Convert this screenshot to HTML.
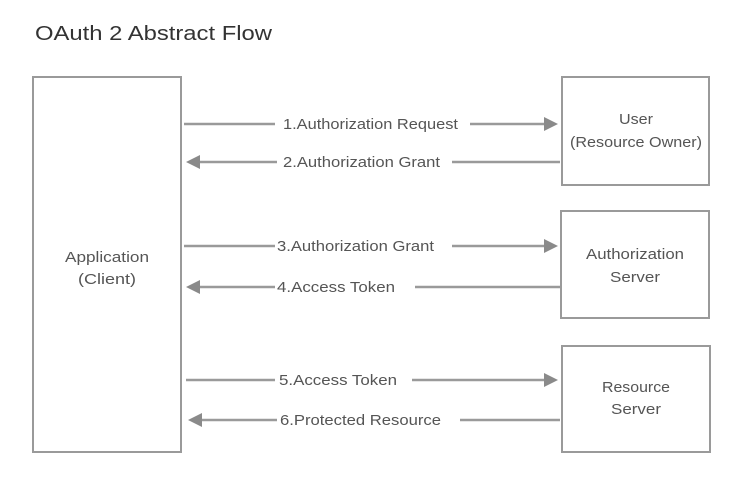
<!DOCTYPE html>
<html><head><meta charset="utf-8"><style>
html,body{margin:0;padding:0;background:#fff;}
svg{display:block;}
text{font-family:"Liberation Sans",sans-serif;fill:#555;}
</style></head><body>
<svg width="734" height="495" viewBox="0 0 734 495">
<text x="35" y="40" font-size="20" style="fill:#333" textLength="237" lengthAdjust="spacingAndGlyphs">OAuth 2 Abstract Flow</text>
<g fill="none" stroke="#9a9a9a" stroke-width="2">
<rect x="33" y="77" width="148" height="375"/>
<rect x="562" y="77" width="147" height="108"/>
<rect x="561" y="211" width="148" height="107"/>
<rect x="562" y="346" width="148" height="106"/>
</g>
<g stroke="#9a9a9a" stroke-width="2.5">
<line x1="184" y1="124" x2="275" y2="124"/><line x1="470" y1="124" x2="546" y2="124"/>
<line x1="196" y1="162" x2="277" y2="162"/><line x1="452" y1="162" x2="560" y2="162"/>
<line x1="184" y1="246" x2="275" y2="246"/><line x1="452" y1="246" x2="546" y2="246"/>
<line x1="196" y1="287" x2="275" y2="287"/><line x1="415" y1="287" x2="560" y2="287"/>
<line x1="186" y1="380" x2="275" y2="380"/><line x1="412" y1="380" x2="546" y2="380"/>
<line x1="198" y1="420" x2="277" y2="420"/><line x1="460" y1="420" x2="560" y2="420"/>
</g>
<g fill="#8a8a8a">
<polygon points="544,117 558,124 544,131"/>
<polygon points="200,155 186,162 200,169"/>
<polygon points="544,239 558,246 544,253"/>
<polygon points="200,280 186,287 200,294"/>
<polygon points="544,373 558,380 544,387"/>
<polygon points="202,413 188,420 202,427"/>
</g>
<g font-size="15">
<text x="283" y="129" textLength="175" lengthAdjust="spacingAndGlyphs">1.Authorization Request</text>
<text x="283" y="167" textLength="157" lengthAdjust="spacingAndGlyphs">2.Authorization Grant</text>
<text x="277" y="251" textLength="157" lengthAdjust="spacingAndGlyphs">3.Authorization Grant</text>
<text x="277" y="292" textLength="118" lengthAdjust="spacingAndGlyphs">4.Access Token</text>
<text x="279" y="385" textLength="118" lengthAdjust="spacingAndGlyphs">5.Access Token</text>
<text x="280" y="425" textLength="161" lengthAdjust="spacingAndGlyphs">6.Protected Resource</text>
</g>
<g font-size="15" text-anchor="middle">
<text x="107" y="262" textLength="84" lengthAdjust="spacingAndGlyphs">Application</text>
<text x="107" y="284" textLength="58" lengthAdjust="spacingAndGlyphs">(Client)</text>
<text x="636" y="124" textLength="34" lengthAdjust="spacingAndGlyphs">User</text>
<text x="636" y="147" textLength="132" lengthAdjust="spacingAndGlyphs">(Resource Owner)</text>
<text x="635" y="259" textLength="98" lengthAdjust="spacingAndGlyphs">Authorization</text>
<text x="635" y="282" textLength="50" lengthAdjust="spacingAndGlyphs">Server</text>
<text x="636" y="392" textLength="68" lengthAdjust="spacingAndGlyphs">Resource</text>
<text x="636" y="414" textLength="50" lengthAdjust="spacingAndGlyphs">Server</text>
</g>
</svg>
</body></html>
